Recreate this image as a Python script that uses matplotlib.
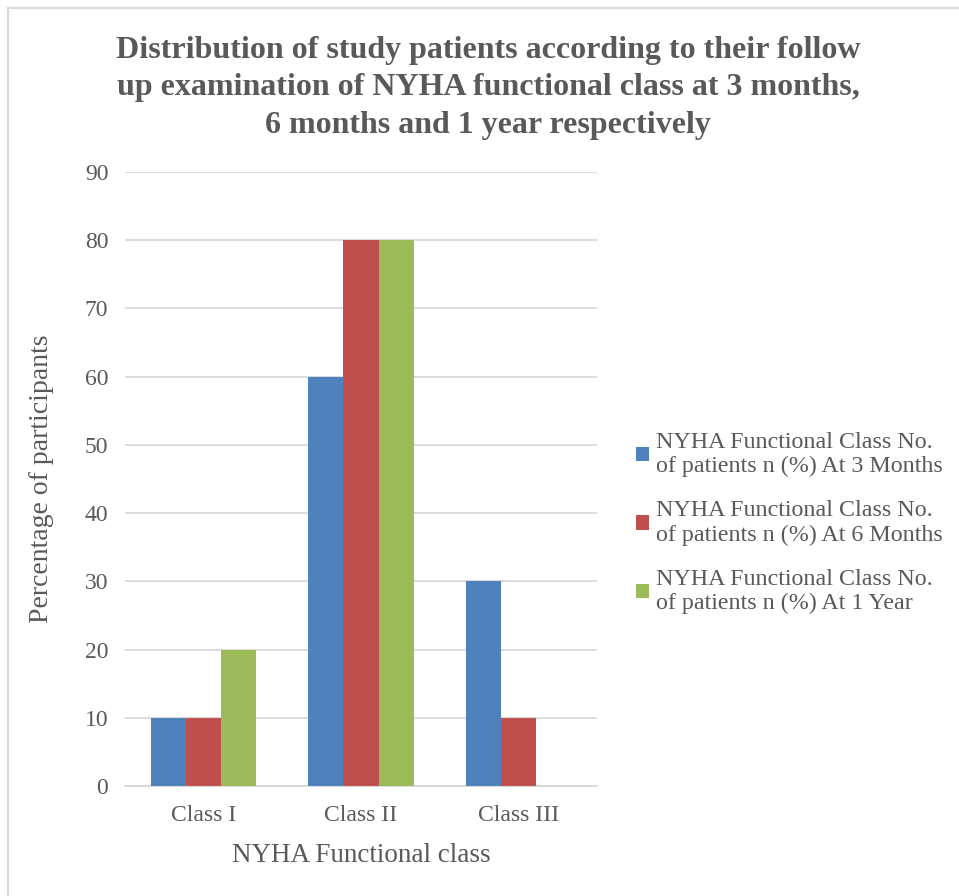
import matplotlib.pyplot as plt
from matplotlib.patches import Rectangle, Patch
import numpy as np

categories = ["Class I", "Class II", "Class III"]
series_labels = [
    "NYHA Functional Class No.\nof patients n (%) At 3 Months",
    "NYHA Functional Class No.\nof patients n (%) At 6 Months",
    "NYHA Functional Class No.\nof patients n (%) At 1 Year",
]
at_3_months = [10, 60, 30]
at_6_months = [10, 80, 10]
at_1_year = [20, 80, 0]
y_ticks = [0, 10, 20, 30, 40, 50, 60, 70, 80, 90]

colors = ["#4F81BD", "#C0504D", "#9BBB59"]
text_color = "#595959"
grid_color = "#D9D9D9"

plt.rcParams["font.family"] = ["Liberation Serif", "DejaVu Serif"]

W, H = 959, 896
fig = plt.figure(figsize=(W / 100, H / 100), dpi=100)

# chart frame (runs off the right and bottom edges)
fig.patches.append(Rectangle((8 / W, -0.05), 1.2, 1 - 8 / H + 0.05,
                             transform=fig.transFigure, fill=False,
                             edgecolor="#D9D9D9", linewidth=1.5))

ax = fig.add_axes([125 / W, 1 - 786 / H, (597 - 125) / W, (786 - 172) / H])

x = np.arange(len(categories))
w = 0.2225
for i, (vals, c, lab) in enumerate(zip([at_3_months, at_6_months, at_1_year], colors, series_labels)):
    ax.bar(x + (i - 1) * w, vals, width=w, color=c, label=lab, zorder=3)

ax.set_xlim(-0.5, 2.5)
ax.set_ylim(0, 90)
ax.set_yticks(y_ticks)
ax.set_xticks(x)
ax.set_xticklabels(categories)
ax.tick_params(axis="both", length=0, labelsize=17, colors=text_color)
ax.tick_params(axis="y", pad=12)
ax.tick_params(axis="x", pad=14)
ax.yaxis.grid(True, color=grid_color, linewidth=1.3, zorder=0)
for s in ["top", "right", "left"]:
    ax.spines[s].set_visible(False)
ax.spines["bottom"].set_color(grid_color)
ax.spines["bottom"].set_linewidth(1.3)

ax.set_ylabel("Percentage of participants", fontsize=20, color=text_color, labelpad=22)
ax.set_xlabel("NYHA Functional class", fontsize=19.5, color=text_color, labelpad=12)

fig.text(488 / W, 1 - 88 / H,
         "Distribution of study patients according to their follow\n"
         "up examination of NYHA functional class at 3 months,\n"
         "6 months and 1 year respectively",
         ha="center", va="center", fontsize=23, fontweight="bold",
         color=text_color, linespacing=1.37)

handles = [Patch(facecolor=c, edgecolor="none") for c in colors]
fig.legend(handles, series_labels, loc="center left",
           bbox_to_anchor=(614 / W, 1 - 523 / H), frameon=False,
           fontsize=17.3, labelcolor=text_color, handlelength=0.55,
           handleheight=0.55, handletextpad=0.3, labelspacing=0.96)

fig.savefig("out.png", dpi=100)
